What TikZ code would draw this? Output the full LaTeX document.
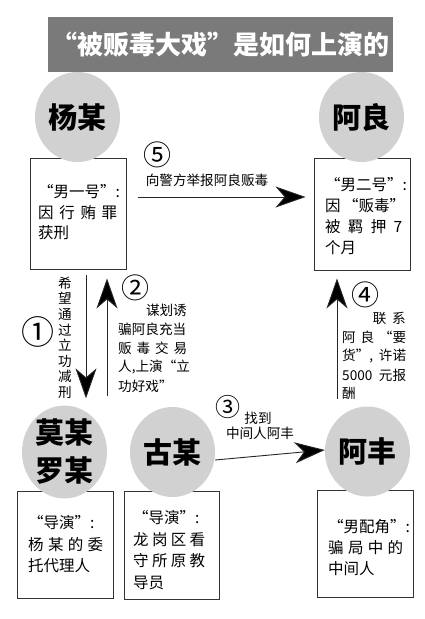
\documentclass[tikz,border=0pt]{standalone}
\usepackage{fontspec}
\setmainfont{Noto Sans CJK SC}
\usetikzlibrary{arrows.meta,shapes.geometric}
\newcommand\justline[2]{\makebox[#1][s]{#2}}
\newcommand\lowr[1]{\raisebox{-3pt}{#1}}
\begin{document}
\begin{tikzpicture}[x=1pt,y=-1pt,
  box/.style={draw=black!80, line width=0.9pt, rectangle, inner sep=0},
  role/.style={ellipse, fill=black!18, minimum width=85pt, minimum height=90pt, inner sep=0,
    font=\fontsize{29}{38}\selectfont\bfseries, align=center},
  btxt/.style={anchor=west, inner sep=0, font=\fontsize{15.5}{16}\selectfont},
  lbl/.style={inner sep=0, font=\fontsize{13.6}{14}\selectfont},
  num/.style={inner sep=0, font=\fontsize{28}{28}\selectfont},
  arr/.style={draw=black!85, line width=0.9pt, -{Stealth[length=30pt,width=21pt,inset=9pt,fill=black]}}]
\useasboundingbox[fill=white] (0,0) rectangle (424,619);

% title
\node[fill=black!52, minimum width=345pt, minimum height=55pt, inner sep=0,
  text=white, font=\fontsize{26}{26}\selectfont\bfseries] (title) at (220.5,44.5)
  {“被贩毒大戏”是如何上演的};

% boxes
\node[box, minimum width=96pt, minimum height=111pt] (yangbox) at (78,213.5) {};
\node[box, minimum width=96pt, minimum height=112pt] (aliangbox) at (362,214) {};
\node[box, minimum width=96pt, minimum height=107pt] (mobox) at (65,544.5) {};
\node[box, minimum width=95pt, minimum height=108pt] (gubox) at (171.5,545) {};
\node[box, minimum width=96pt, minimum height=107pt] (fengbox) at (365,543.5) {};

% role circles
\node[role] (yang) at (77.5,117) {\lowr{杨某}};
\node[role] (aliang) at (361.5,117) {\lowr{阿良}};
\node[role] (mo) at (64.5,452) {\lowr{莫某}\\\lowr{罗某}};
\node[role] (gu) at (172.5,452) {\lowr{古某}};
\node[role] (feng) at (367.5,451.5) {\lowr{阿丰}};

% box texts
\foreach \t [count=\i from 0] in {{“男一号”:},{\justline{79pt}{因 行 贿 罪}},{获刑}}
  \node[btxt] (yangt\i) at (38,{192+\i*20.5}) {\t};
\foreach \t [count=\i from 0] in {{“男二号”:},{\justline{75pt}{因 “贩毒”}},{\justline{77pt}{被 羁 押 7}},{个月}}
  \node[btxt] (aliangt\i) at (325,{185+\i*21}) {\t};
\foreach \t [count=\i from 0] in {{“导演”:},{\justline{75pt}{杨 某 的 委}},{托代理人}}
  \node[btxt] (mot\i) at (28,{523+\i*21.5}) {\t};
\foreach \t [count=\i from 0] in {{“导演”:},{\justline{72pt}{龙 岗 区 看}},{\justline{72pt}{守 所 原 教}},{导员}}
  \node[btxt] (gut\i) at (133,{518+\i*21.5}) {\t};
\foreach \t [count=\i from 0] in {{“男配角”:},{\justline{75pt}{骗 局 中 的}},{中间人}}
  \node[btxt] (fengt\i) at (328,{527+\i*21}) {\t};

% arrows
\draw[arr, shorten <=12pt, shorten >=8pt] ([yshift=16.5pt]yangbox.east) -- ([yshift=17pt]aliangbox.west);
\draw[arr, shorten <=6pt, shorten >=7pt] ([xshift=8pt]yangbox.south) -- ([xshift=8pt]yangbox.south |- mo.north);
\draw[arr, shorten <=9pt, shorten >=9pt] ([xshift=29pt]yangbox.south |- mo.north) -- ([xshift=29pt]yangbox.south);
\draw[arr, shorten <=7pt, shorten >=8pt] ([xshift=-25pt]aliangbox.south |- feng.north) -- ([xshift=-25pt]aliangbox.south);
\draw[arr] ([yshift=-8pt]gu.east) -- ([yshift=1.5pt]feng.west);

% labels
\node[num] (n5) at (157,155) {⑤};
\node[lbl] (l5) at (207,180) {向警方举报阿良贩毒};

\node[num, font=\fontsize{33}{33}\selectfont] (n1) at (38,332) {①};
\foreach \c [count=\i from 0] in {希,望,通,过,立,功,减,刑}
  \node[lbl] (l1\i) at (65,{283+\i*15.6}) {\c};

\node[num] (n2) at (135,288) {②};
\node[lbl, anchor=east] (l2a) at (187,310) {谋划诱};
\node[lbl, anchor=west] (l2b) at (118,329) {骗阿良充当};
\node[lbl, anchor=west] (l2c) at (118,348) {\justline{69pt}{贩 毒 交 易}};
\node[lbl, anchor=west] (l2d) at (118,367) {人,上演“立};
\node[lbl, anchor=west] (l2e) at (118,386) {功好戏”};

\node[num] (n4) at (365,295) {④};
\node[lbl, anchor=east] (l4a) at (406,318) {\justline{33pt}{联 系}};
\node[lbl, anchor=west] (l4b) at (342,337) {\justline{64pt}{阿 良 “要}};
\node[lbl, anchor=west] (l4c) at (342,356) {\justline{64pt}{货”, 许诺}};
\node[lbl, anchor=west] (l4d) at (342,375) {\justline{64pt}{5000 元报}};
\node[lbl, anchor=west] (l4e) at (342,393) {酬};

\node[num, font=\fontsize{25}{25}\selectfont] (n3) at (228,407) {③};
\node[lbl] (l3a) at (258,418) {找到};
\node[lbl] (l3b) at (260,433) {中间人阿丰};
\end{tikzpicture}
\end{document}
